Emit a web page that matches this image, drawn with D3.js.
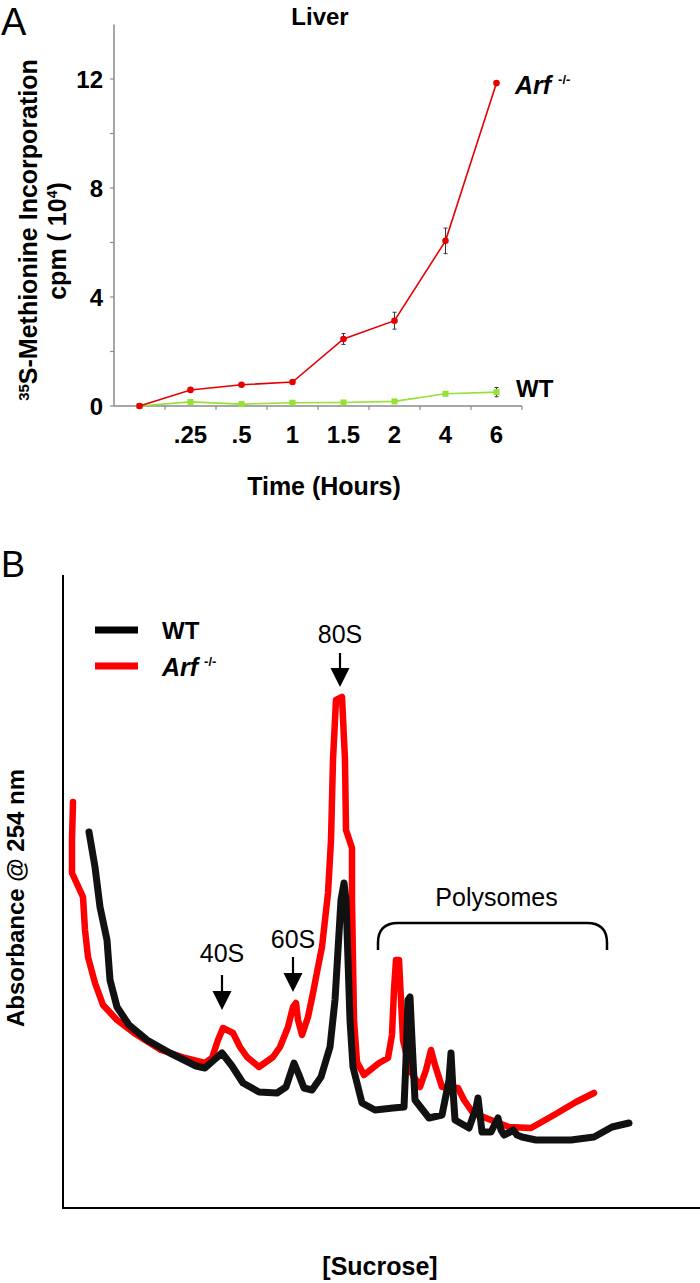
<!DOCTYPE html>
<html>
<head>
<meta charset="utf-8">
<script src="https://cdn.jsdelivr.net/npm/d3@7"></script>
<style>
html,body{margin:0;padding:0;background:#fff;}
svg{display:block;font-family:Arial,"Liberation Sans",sans-serif;}
</style>
</head>
<body>
<svg id="chart" width="700" height="1283"></svg>
<script>
// ---------- Panel A data ----------
const timeCats = ["0", ".25", ".5", "1", "1.5", "2", "4", "6"];
const timeTickLabels = ["", ".25", ".5", "1", "1.5", "2", "4", "6"];
const arfIncorp = [0, 0.59, 0.78, 0.88, 2.46, 3.13, 6.06, 11.85];
const arfIncorpErr = [0, 0.06, 0.06, 0.05, 0.2, 0.31, 0.47, 0.05];
const wtIncorp = [0, 0.15, 0.07, 0.12, 0.13, 0.17, 0.45, 0.51];
const wtIncorpErr = [0, 0.04, 0.03, 0.03, 0.05, 0.05, 0.07, 0.17];
const yTicksA = [0, 2, 4, 6, 8, 10, 12];
const yTickLabelsA = [0, 4, 8, 12];

// ---------- Panel B data (gradient position, A254 arbitrary units) ----------
const wtPos = [26,32,37,44,47,54,66,84,107,133,142,151,159,169,180,196,214,223,231,236,241,249,258,267,272,275,278,281,283,285,287,290,299,312,330,341,343,345,347,349,352,366,379,386,388,390,392,406,413,415,417,419,428,433,435,438,441,447,450,454,459,473,508,531,549,566];
const wtAbs = [376,341,301,268,228,201,183,168,155,142,140,148,155,142,125,116,115,121,145,133,120,118,131,161,208,258,308,325,308,248,188,141,105,98,100,101,148,208,211,168,108,90,93,128,155,118,88,80,100,110,93,76,76,86,90,78,73,76,78,73,71,68,68,71,81,85];
const arfPos = [10,9,9,20,22,25,32,40,54,71,98,122,142,149,155,160,170,177,184,196,210,217,225,230,233,235,239,245,250,255,259,262,265,268,270,273,279,282,283,289,289,290,291,294,301,316,325,329,331,333,336,338,340,347,357,363,368,372,379,395,401,410,428,446,468,491,513,531];
const arfAbs = [406,368,335,311,278,251,225,203,188,175,158,150,145,150,168,180,175,161,151,141,151,161,181,201,205,188,173,191,215,241,261,288,315,368,448,508,511,448,378,360,308,248,188,146,133,145,150,173,218,248,248,208,168,138,121,138,158,143,121,120,108,95,88,81,80,93,106,115];

// annotations
const peakLabels = ["40S", "60S", "80S"];
const peakPos = [159, 230, 277];
const peakLabelAbs = [246, 260, 565];
const peakArrowTop = [233, 251, 555];
const peakArrowTip = [198, 216, 521];
const polyStart = 315, polyEnd = 544, polyLow = 258, polyHigh = 285, polyTextAbs = 302;

const svg = d3.select("#chart");
svg.append("rect").attr("width", 700).attr("height", 1283).attr("fill", "#fff");

// ================= Panel A =================
const xA = d3.scaleBand().domain(timeCats).range([114, 522]);
const yA = d3.scaleLinear().domain([0, 14]).range([406, 24.5]);
const gA = svg.append("g");
const axisCol = "#8a8a8a";

gA.append("text").text("A").attr("x", 1).attr("y", 35)
  .attr("font-size", 38).attr("fill", "#000");
gA.append("text").text("Liver").attr("x", 320).attr("y", 25)
  .attr("text-anchor", "middle").attr("font-size", 24).attr("font-weight", "bold");

// axes
gA.append("line").attr("x1", 114).attr("x2", 114).attr("y1", yA(14)).attr("y2", yA(0))
  .attr("stroke", axisCol).attr("stroke-width", 1.5);
gA.append("line").attr("x1", 114).attr("x2", 522).attr("y1", yA(0)).attr("y2", yA(0))
  .attr("stroke", axisCol).attr("stroke-width", 1.5);
yTicksA.forEach(v => {
  gA.append("line").attr("x1", 110).attr("x2", 114).attr("y1", yA(v)).attr("y2", yA(v))
    .attr("stroke", axisCol).attr("stroke-width", 1.2);
});
yTickLabelsA.forEach(v => {
  gA.append("text").text(v).attr("x", 103).attr("y", yA(v) + 8.5)
    .attr("text-anchor", "end").attr("font-size", 24).attr("font-weight", "bold");
});
timeCats.forEach((c, i) => {
  const xb = xA(c) + xA.bandwidth();
  gA.append("line").attr("x1", xb).attr("x2", xb).attr("y1", yA(0)).attr("y2", yA(0) + 4)
    .attr("stroke", axisCol).attr("stroke-width", 1.2);
  gA.append("text").text(timeTickLabels[i]).attr("x", xA(c) + xA.bandwidth() / 2).attr("y", 443)
    .attr("text-anchor", "middle").attr("font-size", 24).attr("font-weight", "bold");
});
gA.append("text").text("Time (Hours)").attr("x", 324).attr("y", 495)
  .attr("text-anchor", "middle").attr("font-size", 25).attr("font-weight", "bold");

const yt1 = gA.append("text").attr("transform", "rotate(-90)").attr("x", -230).attr("y", 37)
  .attr("text-anchor", "middle").attr("font-size", 25).attr("font-weight", "bold");
yt1.append("tspan").text("35").attr("font-size", 15).attr("dy", -8);
yt1.append("tspan").text("S-Methionine Incorporation").attr("dy", 8);
const yt2 = gA.append("text").attr("transform", "rotate(-90)").attr("x", -241).attr("y", 66)
  .attr("text-anchor", "middle").attr("font-size", 25).attr("font-weight", "bold");
yt2.append("tspan").text("cpm ( 10");
yt2.append("tspan").text("4").attr("font-size", 14).attr("dy", -9);
yt2.append("tspan").text(")").attr("dy", 9);

const cx = c => xA(c) + xA.bandwidth() / 2;
function drawSeries(vals, errs, color, marker) {
  const line = d3.line().x((d, i) => cx(timeCats[i])).y(d => yA(d));
  gA.append("path").datum(vals).attr("d", line).attr("fill", "none")
    .attr("stroke", color).attr("stroke-width", 1.6);
  vals.forEach((v, i) => {
    const e = errs[i];
    if (e > 0.04) {
      const x = cx(timeCats[i]);
      gA.append("line").attr("x1", x).attr("x2", x).attr("y1", yA(v + e)).attr("y2", yA(v - e))
        .attr("stroke", "#333").attr("stroke-width", 1);
      [v + e, v - e].forEach(w => gA.append("line").attr("x1", x - 2).attr("x2", x + 2)
        .attr("y1", yA(w)).attr("y2", yA(w)).attr("stroke", "#333").attr("stroke-width", 1));
    }
  });
  vals.forEach((v, i) => {
    const x = cx(timeCats[i]);
    if (marker === "circle") {
      gA.append("circle").attr("cx", x).attr("cy", yA(v)).attr("r", 3.3).attr("fill", color);
    } else {
      gA.append("rect").attr("x", x - 3).attr("y", yA(v) - 3).attr("width", 6).attr("height", 6).attr("fill", color);
    }
  });
}
drawSeries(wtIncorp, wtIncorpErr, "#93e234", "square");
drawSeries(arfIncorp, arfIncorpErr, "#e60000", "circle");

const arfLab = gA.append("text").attr("x", 515).attr("y", 94).attr("font-size", 25)
  .attr("font-weight", "bold");
arfLab.append("tspan").text("Arf").attr("font-style", "italic");
arfLab.append("tspan").text("-/-").attr("font-size", 13).attr("dx", 7).attr("dy", -10);
gA.append("text").text("WT").attr("x", 516).attr("y", 397).attr("font-size", 24).attr("font-weight", "bold");

// ================= Panel B =================
const xB = d3.scaleLinear().domain([0, 637]).range([63, 700]);
const yB = d3.scaleLinear().domain([0, 633]).range([1208, 575]);
const gB = svg.append("g");

gB.append("text").text("B").attr("x", 1).attr("y", 577).attr("font-size", 36);
gB.append("line").attr("x1", xB(0)).attr("x2", xB(0)).attr("y1", yB(633)).attr("y2", yB(0))
  .attr("stroke", "#000").attr("stroke-width", 2);
gB.append("line").attr("x1", xB(0) - 1).attr("x2", xB(637)).attr("y1", yB(0)).attr("y2", yB(0))
  .attr("stroke", "#000").attr("stroke-width", 2);
gB.append("text").text("[Sucrose]").attr("x", 380).attr("y", 1275)
  .attr("text-anchor", "middle").attr("font-size", 25).attr("font-weight", "bold");
gB.append("text").text("Absorbance @ 254 nm").attr("transform", "rotate(-90)")
  .attr("x", -898).attr("y", 24).attr("text-anchor", "middle")
  .attr("font-size", 24).attr("font-weight", "bold");

const lineB = d3.line().x(d => xB(d[0])).y(d => yB(d[1]));
gB.append("path").datum(arfPos.map((p, i) => [p, arfAbs[i]])).attr("d", lineB)
  .attr("fill", "none").attr("stroke", "#ff0000").attr("stroke-width", 6.5)
  .attr("stroke-linejoin", "round").attr("stroke-linecap", "round");
gB.append("path").datum(wtPos.map((p, i) => [p, wtAbs[i]])).attr("d", lineB)
  .attr("fill", "none").attr("stroke", "#111").attr("stroke-width", 7)
  .attr("stroke-linejoin", "round").attr("stroke-linecap", "round");

// legend
gB.append("line").attr("x1", 95).attr("x2", 138).attr("y1", 630).attr("y2", 630)
  .attr("stroke", "#000").attr("stroke-width", 7);
gB.append("line").attr("x1", 95).attr("x2", 138).attr("y1", 666).attr("y2", 666)
  .attr("stroke", "#ff0000").attr("stroke-width", 7);
gB.append("text").text("WT").attr("x", 162).attr("y", 639).attr("font-size", 24).attr("font-weight", "bold");
const arfB = gB.append("text").attr("x", 162).attr("y", 676).attr("font-size", 25).attr("font-weight", "bold");
arfB.append("tspan").text("Arf").attr("font-style", "italic");
arfB.append("tspan").text("-/-").attr("font-size", 13).attr("dx", 6).attr("dy", -10);

// peak annotations
peakLabels.forEach((lab, i) => {
  const x = xB(peakPos[i]);
  gB.append("text").text(lab).attr("x", x).attr("y", yB(peakLabelAbs[i]))
    .attr("text-anchor", "middle").attr("font-size", 25);
  const tip = yB(peakArrowTip[i]);
  gB.append("line").attr("x1", x).attr("x2", x).attr("y1", yB(peakArrowTop[i])).attr("y2", tip - 15)
    .attr("stroke", "#000").attr("stroke-width", 2.2);
  gB.append("path").attr("d", `M${x - 9.5},${tip - 19} L${x + 9.5},${tip - 19} L${x},${tip} Z`).attr("fill", "#000");
});

// polysomes bracket
const bx0 = xB(polyStart), bx1 = xB(polyEnd), by0 = yB(polyLow), by1 = yB(polyHigh), r = 20;
gB.append("path")
  .attr("d", `M${bx0},${by0} L${bx0},${by1 + r} Q${bx0},${by1} ${bx0 + r},${by1} L${bx1 - r},${by1} Q${bx1},${by1} ${bx1},${by1 + r} L${bx1},${by0}`)
  .attr("fill", "none").attr("stroke", "#000").attr("stroke-width", 2.5);
gB.append("text").text("Polysomes").attr("x", xB((polyStart + polyEnd) / 2) + 4).attr("y", yB(polyTextAbs))
  .attr("text-anchor", "middle").attr("font-size", 25);
</script>
</body>
</html>
